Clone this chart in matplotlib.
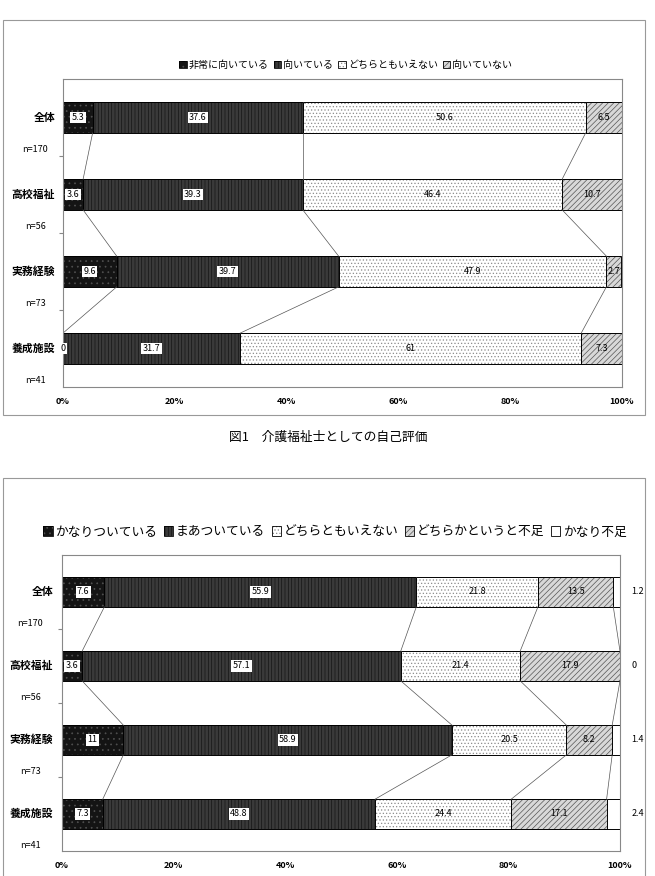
import numpy as np
import matplotlib.pyplot as plt
from matplotlib.patches import Patch, Rectangle
from matplotlib.transforms import blended_transform_factory

plt.rcParams['font.family'] = ['Noto Sans CJK JP', 'DejaVu Sans']
plt.rcParams['hatch.linewidth'] = 0.5

groups = ['全体', '高校福祉', '実務経験', '養成施設']
counts = ['n=170', 'n=56', 'n=73', 'n=41']

top_labels = ['非常に向いている', '向いている', 'どちらともいえない', '向いていない']
top_values = [
    [5.3, 37.6, 50.6, 6.5],
    [3.6, 39.3, 46.4, 10.7],
    [9.6, 39.7, 47.9, 2.7],
    [0, 31.7, 61, 7.3],
]

bottom_labels = ['かなりついている', 'まあついている', 'どちらともいえない',
                 'どちらかというと不足', 'かなり不足']
bottom_values = [
    [7.6, 55.9, 21.8, 13.5, 1.2],
    [3.6, 57.1, 21.4, 17.9, 0],
    [11, 58.9, 20.5, 8.2, 1.4],
    [7.3, 48.8, 24.4, 17.1, 2.4],
]

caption = '図1　介護福祉士としての自己評価'
x_ticks = [0, 20, 40, 60, 80, 100]

# facecolor, hatch, hatch colour, white box behind label
styles = [
    ('#141414', '...', '#505050', True),
    ('#3a3a3a', '|||||', '#151515', True),
    ('white', '.....', '#8c8c8c', False),
    ('#d8d8d8', '//////', '#555555', False),
    ('white', '', 'black', False),
]

W, H = 655, 876


def fx(px):
    return px / W


def fy(py):
    return 1 - py / H


def draw(ax, values, name_x, n_x, outside_last):
    vals = np.array(values, dtype=float)
    cum = np.cumsum(vals, axis=1)
    left = cum - vals
    y = np.arange(len(groups))
    h = 0.4
    nser = vals.shape[1]
    for j in range(nser):
        fc, hatch, hc, boxed = styles[j]
        ax.barh(y, vals[:, j], left=left[:, j], height=h, color=fc,
                hatch=hatch, edgecolor=hc, linewidth=0)
        ax.barh(y, vals[:, j], left=left[:, j], height=h, fill=False,
                edgecolor='black', linewidth=0.7)
        for i in range(len(y)):
            v = vals[i, j]
            txt = f'{v:g}'
            if outside_last and j == nser - 1:
                ax.text(102, y[i], txt, ha='left', va='center', fontsize=6.5,
                        clip_on=False)
                continue
            xc = left[i, j] + v / 2
            kw = {}
            if boxed:
                kw['bbox'] = dict(boxstyle='square,pad=0.15', fc='white', ec='none')
            ax.text(xc, y[i], txt, ha='center', va='center', fontsize=6.5,
                    clip_on=False, **kw)

    # series lines between the bars
    for i in range(len(y) - 1):
        for j in range(nser - 1):
            ax.plot([cum[i, j], cum[i + 1, j]], [y[i] + h / 2, y[i + 1] - h / 2],
                    color='#555555', lw=0.5)

    ax.set_xlim(0, 100)
    ax.set_ylim(len(groups) - 0.5, -0.5)
    ax.set_xticks(x_ticks)
    ax.set_xticklabels([f'{t}%' for t in x_ticks], fontsize=6.5, fontweight='bold')
    ax.tick_params(axis='x', length=0, pad=7)
    ax.set_yticks([0.5, 1.5, 2.5])
    ax.set_yticklabels([])
    ax.tick_params(axis='y', length=3, color='#888888')
    for s in ax.spines.values():
        s.set_color('#888888')
        s.set_linewidth(0.8)

    tr = blended_transform_factory(ax.transAxes, ax.transData)
    for i, (g, n) in enumerate(zip(groups, counts)):
        ax.text(name_x, y[i], g, transform=tr, ha='right', va='center',
                fontsize=7.8, fontweight='bold')
        ax.text(n_x, y[i] + 0.42, n, transform=tr, ha='center', va='center',
                fontsize=6.5)


def legend(fig, labels, x, y, size):
    handles = []
    for j in range(len(labels)):
        fill = Patch(facecolor=styles[j][0], hatch=styles[j][1],
                     edgecolor=styles[j][2], linewidth=0)
        edge = Patch(fill=False, edgecolor='black', linewidth=0.6)
        handles.append((fill, edge))
    fig.legend(handles, labels, loc='center', bbox_to_anchor=(x, y), ncol=len(labels),
               frameon=False, fontsize=size, handlelength=0.75, handleheight=0.75,
               handletextpad=0.2, columnspacing=0.5, borderpad=0)


fig = plt.figure(figsize=(W / 100, H / 100), dpi=100)

# upper chart
fig.add_artist(Rectangle((fx(3), fy(415)), fx(642), 395 / H, transform=fig.transFigure,
                         fill=False, ec='#999999', lw=0.8))
ax1 = fig.add_axes([fx(63), fy(387), fx(559), 308 / H])
draw(ax1, top_values, -0.014, -0.05, False)
legend(fig, top_labels, fx(346), fy(65), 7.2)
fig.text(fx(328), fy(437), caption, ha='center', va='center', fontsize=9.2)

# lower chart
fig.add_artist(Rectangle((fx(3), -0.01), fx(642), 398 / H + 0.01,
                         transform=fig.transFigure, fill=False, ec='#999999', lw=0.8))
ax2 = fig.add_axes([fx(62), fy(851), fx(558), 296 / H])
draw(ax2, bottom_values, -0.016, -0.057, True)
legend(fig, bottom_labels, fx(335), fy(532), 9.2)

fig.savefig('out.png', dpi=100)
